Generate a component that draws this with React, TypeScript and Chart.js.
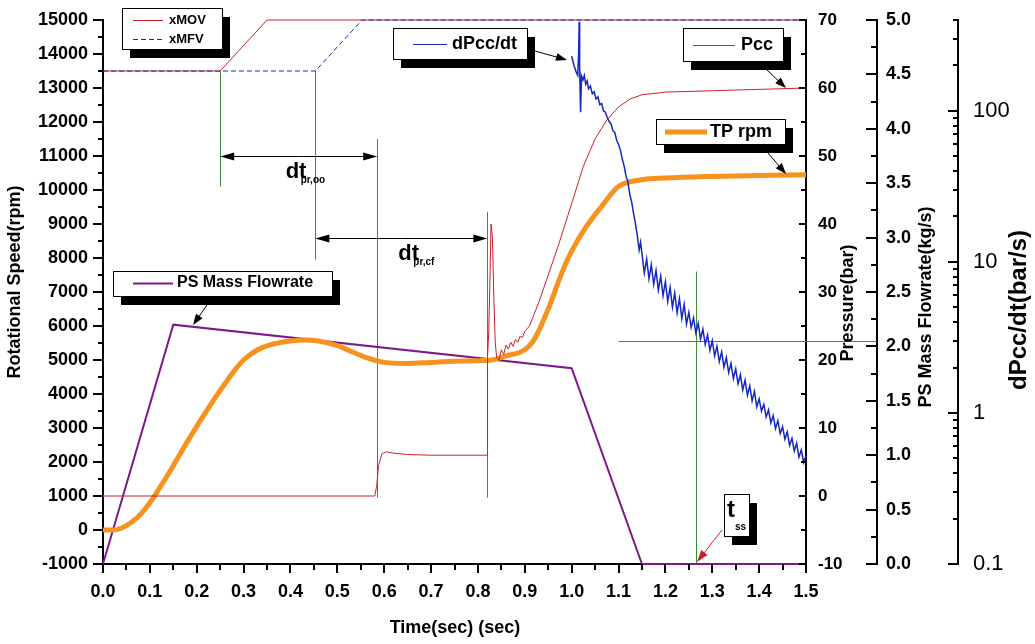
import { useEffect, useRef } from "react";
import { Chart, registerables } from "chart.js";

Chart.register(...registerables);

const FONT = "'Liberation Sans', Arial, Helvetica, sans-serif";
const RED = "#c8202a";
const BLUE = "#1428c0";
const PURPLE = "#7d1a88";
const ORANGE = "#f5931e";
const GREEN = "#3a8a3a";

// ---------------- data ----------------
const xmovTime = [0, 0.25, 0.35, 1.5];
const xmovValue = [13500, 13500, 15000, 15000];

const xmfvTime = [0, 0.453, 0.553, 1.5];
const xmfvValue = [13500, 13500, 15000, 15000];

const flowTime = [0, 0.15, 1.0, 1.15, 1.5];
const flowValue = [0, 2.2, 1.8, 0, 0];

const tpTime = [0, 0.02, 0.04, 0.06, 0.08, 0.1, 0.12, 0.14, 0.16, 0.18, 0.2, 0.22, 0.24, 0.26, 0.28, 0.3, 0.33, 0.36, 0.4, 0.43, 0.46, 0.5, 0.53, 0.56, 0.6, 0.65, 0.7, 0.75, 0.8, 0.83, 0.86, 0.9, 0.92, 0.95, 0.98, 1.0, 1.03, 1.06, 1.1, 1.15, 1.2, 1.3, 1.4, 1.5];
const tpValue = [0, 0, 60, 220, 460, 800, 1220, 1660, 2130, 2600, 3050, 3480, 3900, 4300, 4680, 5000, 5300, 5460, 5560, 5590, 5560, 5420, 5250, 5080, 4930, 4900, 4930, 4960, 4980, 5000, 5120, 5300, 5600, 6500, 7600, 8200, 8900, 9450, 10100, 10300, 10350, 10400, 10430, 10450];

const pccTime = [0, 0.58, 0.584, 0.588, 0.595, 0.605, 0.62, 0.65, 0.7, 0.82, 0.8205, 0.823, 0.826, 0.828, 0.831, 0.834, 0.837, 0.84, 0.845, 0.85, 0.855, 0.86, 0.865, 0.87, 0.875, 0.88, 0.885, 0.89, 0.895, 0.9, 0.91, 0.93, 0.95, 0.97, 1.0, 1.025, 1.05, 1.075, 1.1, 1.125, 1.15, 1.2, 1.3, 1.4, 1.5];
const pccValue = [0, 0, 1.5, 4.5, 6.2, 6.5, 6.3, 6.1, 6.0, 6.0, 20.5, 24, 33, 40, 38, 29, 22.5, 20.3, 20.0, 21.5, 20.8, 22.2, 21.6, 22.6, 22.0, 23.0, 22.6, 23.5, 23.3, 24.2, 25.0, 28.5, 32.5, 36.5, 43.0, 48.5, 52.5, 55.3, 57.2, 58.4, 59.0, 59.4, 59.6, 59.8, 60];

const dpccTime = [
  1.0, 1.005, 1.01, 1.013, 1.015, 1.016, 1.017, 1.019, 1.021, 1.024,
  1.027, 1.03, 1.033, 1.036, 1.04, 1.044, 1.048, 1.052, 1.056, 1.06,
  1.064, 1.068, 1.072, 1.076, 1.08, 1.084, 1.088, 1.092, 1.096, 1.1,
  1.104, 1.108, 1.112, 1.116, 1.12, 1.124, 1.128, 1.132, 1.136, 1.14,
  1.144, 1.147,
  1.15, 1.155, 1.16, 1.165, 1.17, 1.175, 1.18, 1.185, 1.19, 1.195,
  1.2, 1.205, 1.21, 1.215, 1.22, 1.225, 1.23, 1.235, 1.24, 1.245,
  1.25, 1.255, 1.26, 1.265, 1.27, 1.275, 1.28, 1.285, 1.29, 1.295,
  1.3, 1.305, 1.31, 1.315, 1.32, 1.325, 1.33, 1.335, 1.34, 1.345,
  1.35, 1.355, 1.36, 1.365, 1.37, 1.375, 1.38, 1.385, 1.39, 1.395,
  1.4, 1.405, 1.41, 1.415, 1.42, 1.425, 1.43, 1.435, 1.44, 1.445,
  1.45, 1.455, 1.46, 1.465, 1.47, 1.475, 1.48, 1.485, 1.49, 1.495,
  1.5,
];
const dpccValue = [
  230, 200, 180, 172, 250, 390, 200, 98, 170, 160,
  172, 150, 158, 140, 146, 130, 134, 120, 124, 110,
  112, 100, 98, 90, 85, 82, 74, 72, 64, 60,
  55, 48, 43, 37, 34, 28, 25, 21, 18, 15,
  12, 13.5,
  11.4, 8.43, 10.45, 7.73, 9.59, 7.09, 8.8, 6.5, 8.07, 5.97,
  7.4, 5.47, 6.79, 5.02, 6.24, 4.6, 5.71, 4.22, 5.24, 3.88,
  4.64, 3.68, 4.26, 3.38, 3.91, 3.09, 3.59, 2.84, 3.29, 2.6,
  3.01, 2.39, 2.76, 2.19, 2.54, 2.01, 2.33, 1.85, 2.13, 1.69,
  1.96, 1.56, 1.79, 1.42, 1.65, 1.31, 1.51, 1.2, 1.39, 1.1,
  1.24, 1.03, 1.14, 0.94, 1.05, 0.86, 0.96, 0.79, 0.89, 0.73,
  0.81, 0.67, 0.75, 0.61, 0.68, 0.56, 0.63, 0.51, 0.57, 0.47,
  0.52,
];

const logTickValues = [0.1, 1, 10, 100];

// annotation guides (data units: time, rpm)
const guideLines = [
  { t: 0.25, from: 13500, to: 10100 },
  { t: 0.453, from: 13500, to: 7950 },
  { t: 0.585, from: 11500, to: 950 },
  { t: 0.82, from: 9350, to: 950 },
  { t: 1.265, from: 7600, to: -1000 },
];
const steadyLevel = 3; // bar/s
const steadyStart = 1.1;
const dimArrows = [
  { from: 0.25, to: 0.585, at: 11000, main: "dt", sub: "pr,oo", dx: -13 },
  { from: 0.453, to: 0.82, at: 8600, main: "dt", sub: "pr,cf", dx: -3 },
];

const pts = (t: number[], v: number[]) => t.map((x, i) => ({ x, y: v[i] }));

function arrowTo(ctx: CanvasRenderingContext2D, x1: number, y1: number, x2: number, y2: number, color: string, len = 12, half = 4) {
  const a = Math.atan2(y2 - y1, x2 - x1);
  ctx.strokeStyle = color;
  ctx.fillStyle = color;
  ctx.lineWidth = 1;
  ctx.beginPath();
  ctx.moveTo(x1, y1);
  ctx.lineTo(x2 - Math.cos(a) * len * 0.7, y2 - Math.sin(a) * len * 0.7);
  ctx.stroke();
  ctx.beginPath();
  ctx.moveTo(x2, y2);
  ctx.lineTo(x2 - len * Math.cos(a) + half * Math.sin(a), y2 - len * Math.sin(a) - half * Math.cos(a));
  ctx.lineTo(x2 - len * Math.cos(a) - half * Math.sin(a), y2 - len * Math.sin(a) + half * Math.cos(a));
  ctx.closePath();
  ctx.fill();
}

function legendBox(ctx: CanvasRenderingContext2D, x: number, y: number, w: number, h: number) {
  ctx.fillStyle = "#000";
  ctx.fillRect(x + 8, y + 9, w, h);
  ctx.fillStyle = "#fff";
  ctx.fillRect(x, y, w, h);
  ctx.strokeStyle = "#000";
  ctx.lineWidth = 1;
  ctx.strokeRect(x + 0.5, y + 0.5, w, h);
}

function sample(ctx: CanvasRenderingContext2D, x1: number, x2: number, y: number, color: string, width: number, dash: number[] = []) {
  ctx.save();
  ctx.strokeStyle = color;
  ctx.lineWidth = width;
  ctx.setLineDash(dash);
  ctx.beginPath();
  ctx.moveTo(x1, y);
  ctx.lineTo(x2, y);
  ctx.stroke();
  ctx.restore();
}

function text(ctx: CanvasRenderingContext2D, s: string, x: number, y: number, size: number, bold = true, align: CanvasTextAlign = "left") {
  ctx.fillStyle = "#000";
  ctx.font = `${bold ? "bold " : ""}${size}px ${FONT}`;
  ctx.textAlign = align;
  ctx.textBaseline = "middle";
  ctx.fillText(s, x, y);
}

function vText(ctx: CanvasRenderingContext2D, s: string, x: number, y: number, size: number, bold = true) {
  ctx.save();
  ctx.translate(x, y);
  ctx.rotate(-Math.PI / 2);
  text(ctx, s, 0, 0, size, bold, "center");
  ctx.restore();
}

const decor = {
  id: "decor",
  beforeDatasetsDraw(chart: any) {
    const { ctx, scales } = chart;
    const x = scales.x, y = scales.y, yL = scales.yL, yF = scales.yF;
    ctx.save();
    ctx.strokeStyle = GREEN;
    ctx.lineWidth = 1;
    for (const g of guideLines) {
      const px = Math.round(x.getPixelForValue(g.t)) + 0.5;
      ctx.beginPath();
      ctx.moveTo(px, y.getPixelForValue(g.from));
      ctx.lineTo(px, y.getPixelForValue(g.to));
      ctx.stroke();
    }
    const hy = Math.round(yL.getPixelForValue(steadyLevel)) + 0.5;
    ctx.beginPath();
    ctx.moveTo(x.getPixelForValue(steadyStart), hy);
    ctx.lineTo(yF.left, hy);
    ctx.stroke();
    ctx.restore();
  },
  afterDraw(chart: any) {
    const { ctx, scales } = chart;
    const x = scales.x, y = scales.y, yP = scales.yP, yF = scales.yF, yL = scales.yL;
    ctx.save();
    ctx.strokeStyle = "#000";
    ctx.lineWidth = 2;
    const line = (a: number, b: number, c: number, d: number) => {
      ctx.beginPath();
      ctx.moveTo(a, b);
      ctx.lineTo(c, d);
      ctx.stroke();
    };
    const mids = (v: number[]) => v.slice(1).map((m, i) => (m + v[i]) / 2);
    const vals = (s: any) => s.ticks.map((t: any) => t.value);

    const vAxis = (s: any, axisX: number, majors: number[], minors: number[], ml: number, nl: number) => {
      for (const v of majors) { const p = Math.round(s.getPixelForValue(v)); line(axisX - ml, p, axisX, p); }
      for (const v of minors) { const p = Math.round(s.getPixelForValue(v)); line(axisX - nl, p, axisX, p); }
    };
    const yMaj = vals(y);
    vAxis(y, y.right, yMaj, mids(yMaj), 10, 5);
    const pMaj = vals(yP);
    vAxis(yP, yP.left, pMaj, mids(pMaj), 7, 5);
    const fMaj = vals(yF);
    vAxis(yF, yF.left, fMaj, mids(fMaj), 11, 6);
    const lMaj = vals(yL);
    const lMin: number[] = [];
    for (const d of lMaj) for (let k = 2; k <= 9; k++) if (k * d <= yL.max + 1e-9) lMin.push(k * d);
    vAxis(yL, yL.left, lMaj, lMin, 10, 5);

    const xMaj = vals(x);
    for (const v of xMaj) { const p = Math.round(x.getPixelForValue(v)); line(p, x.top, p, x.top + 9); }
    for (const v of mids(xMaj)) { const p = Math.round(x.getPixelForValue(v)); line(p, x.top, p, x.top + 6); }

    vText(ctx, "Rotational Speed(rpm)", 15, 282, 18);
    text(ctx, "Time(sec) (sec)", 455, 628, 18, true, "center");
    vText(ctx, "Pressure(bar)", yP.left + 42, 303, 18);
    vText(ctx, "PS Mass Flowrate(kg/s)", yF.left + 49, 307, 18);
    vText(ctx, "dPcc/dt(bar/s)", yL.left + 61, 310, 24);

    for (const d of dimArrows) {
      const x1 = x.getPixelForValue(d.from), x2 = x.getPixelForValue(d.to);
      const py = Math.round(y.getPixelForValue(d.at)) + 0.5;
      const mid = (x1 + x2) / 2;
      arrowTo(ctx, mid, py, x1, py, "#000", 14, 4);
      arrowTo(ctx, mid, py, x2, py, "#000", 14, 4);
      text(ctx, d.main, mid + d.dx, py + 15, 22);
      text(ctx, d.sub, mid + d.dx + 15, py + 24, 10);
    }

    legendBox(ctx, 122, 8, 100, 41);
    sample(ctx, 133, 163, 20.5, RED, 1);
    sample(ctx, 133, 163, 39.5, BLUE, 1, [5, 3]);
    text(ctx, "xMOV", 169, 20, 13);
    text(ctx, "xMFV", 169, 39, 13);

    legendBox(ctx, 393, 28, 134, 31);
    sample(ctx, 413, 447, 44.5, BLUE, 1);
    text(ctx, "dPcc/dt", 452, 44, 18);
    arrowTo(ctx, 535, 51, 567, 60, "#000", 11, 4);

    legendBox(ctx, 683, 28, 100, 33);
    sample(ctx, 693, 735, 45.5, RED, 1);
    text(ctx, "Pcc", 741, 45, 18);
    arrowTo(ctx, 767, 70, 786, 88, "#000", 11, 4);

    legendBox(ctx, 656, 119, 129, 25);
    sample(ctx, 665, 707, 132, ORANGE, 5);
    text(ctx, "TP rpm", 710, 132, 18);
    arrowTo(ctx, 768, 153, 786, 174, "#000", 11, 4);

    legendBox(ctx, 113, 271, 219, 25);
    sample(ctx, 133, 173, 283.5, PURPLE, 2);
    text(ctx, "PS Mass Flowrate", 177, 283, 16);
    arrowTo(ctx, 207, 305, 193, 325, "#000", 11, 4);

    legendBox(ctx, 724, 494, 25, 42);
    text(ctx, "t", 727, 510, 24);
    text(ctx, "ss", 735, 527, 10);
    arrowTo(ctx, 722, 530, 697, 562, RED, 12, 4);

    ctx.restore();
  },
};

const tickFont = (size: number, bold = true) => ({ family: FONT, size, weight: bold ? "bold" : "normal" });

const noPad = (s: any) => {
  s.paddingTop = 0;
  s.paddingBottom = 0;
  s.paddingLeft = 0;
  s.paddingRight = 0;
};

export default function App() {
  const ref = useRef<HTMLCanvasElement>(null);

  useEffect(() => {
    Chart.defaults.color = "#000";
    const common = (width: number) => ({
      grid: { display: false, drawTicks: false },
      border: { display: true, color: "#000", width: 2 },
      afterFit: (s: any) => { s.width = width; noPad(s); },
    });
    const chart = new Chart(ref.current as HTMLCanvasElement, {
      type: "line",
      data: {
        datasets: [
          { label: "PS Mass Flowrate", data: pts(flowTime, flowValue), yAxisID: "yF", borderColor: PURPLE, borderWidth: 2, order: 5 },
          { label: "TP rpm", data: pts(tpTime, tpValue), yAxisID: "y", borderColor: ORANGE, borderWidth: 5, order: 4, cubicInterpolationMode: "monotone" },
          { label: "xMOV", data: pts(xmovTime, xmovValue), yAxisID: "y", borderColor: RED, borderWidth: 1, order: 3 },
          { label: "xMFV", data: pts(xmfvTime, xmfvValue), yAxisID: "y", borderColor: BLUE, borderWidth: 1, borderDash: [5, 3], order: 2 },
          { label: "Pcc", data: pts(pccTime, pccValue), yAxisID: "yP", borderColor: RED, borderWidth: 1, order: 1 },
          { label: "dPcc/dt", data: pts(dpccTime, dpccValue), yAxisID: "yL", borderColor: BLUE, borderWidth: 1.5, order: 0 },
        ] as any,
      },
      options: {
        responsive: false,
        animation: false,
        devicePixelRatio: 1,
        layout: { padding: { top: 20, left: 0, right: 0, bottom: 0 } },
        datasets: { line: { pointRadius: 0, clip: false, tension: 0 } } as any,
        plugins: { legend: { display: false }, tooltip: { enabled: false }, title: { display: false } },
        scales: {
          x: {
            type: "linear",
            position: "bottom",
            min: 0,
            max: 1.5,
            grid: { display: false, drawTicks: false },
            border: { display: true, color: "#000", width: 2 },
            ticks: { stepSize: 0.1, autoSkip: false, maxRotation: 0, padding: 17, font: tickFont(18) as any, callback: (v: any) => Number(v).toFixed(1) },
            afterFit: (s: any) => { s.height = 80; noPad(s); },
          },
          y: {
            type: "linear",
            position: "left",
            min: -1000,
            max: 15000,
            ...common(103),
            ticks: { stepSize: 1000, autoSkip: false, padding: 15, font: tickFont(18) as any, callback: (v: any) => String(v) },
          },
          yP: {
            type: "linear",
            position: "right",
            weight: 1,
            min: -10,
            max: 70,
            ...common(71),
            ticks: { stepSize: 10, autoSkip: false, padding: 12, font: tickFont(17) as any, callback: (v: any) => String(v) },
          },
          yF: {
            type: "linear",
            position: "right",
            weight: 2,
            min: 0,
            max: 5,
            ...common(81),
            ticks: { stepSize: 0.5, autoSkip: false, padding: 9, font: tickFont(18) as any, callback: (v: any) => Number(v).toFixed(1) },
          },
          yL: {
            type: "logarithmic",
            position: "right",
            weight: 3,
            min: 0.1,
            max: 400,
            ...common(77),
            afterBuildTicks: (s: any) => { s.ticks = logTickValues.map((v) => ({ value: v, major: true })); },
            ticks: { autoSkip: false, padding: 15, font: tickFont(22, false) as any, callback: (v: any) => String(v) },
          },
        } as any,
      },
      plugins: [decor],
    });
    return () => chart.destroy();
  }, []);

  return (
    <div style={{ position: "absolute", left: 0, top: 0, width: 1035, height: 644, background: "#fff" }}>
      <canvas ref={ref} width={1035} height={644} style={{ display: "block" }} />
    </div>
  );
}
